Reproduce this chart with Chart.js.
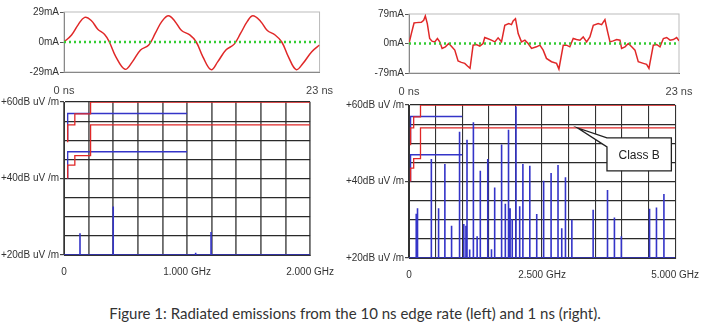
<!DOCTYPE html>
<html>
<head>
<meta charset="utf-8">
<script src="https://cdn.jsdelivr.net/npm/chart.js@4.4.1/dist/chart.umd.min.js"></script>
<style>
  body { margin: 0; background: #fff; width: 710px; height: 328px; position: relative; overflow: hidden; }
  canvas { position: absolute; }
  #caption { position: absolute; left: 0; top: 304px; width: 710px; text-align: center;
             font: 15px Lato, "Open Sans", sans-serif; color: #333; }
</style>
</head>
<body>
<canvas id="tl" width="345" height="100" style="left:0;top:0"></canvas>
<canvas id="tr" width="355" height="100" style="left:355px;top:0"></canvas>
<canvas id="bl" width="345" height="190" style="left:0;top:95px"></canvas>
<canvas id="br" width="370" height="190" style="left:340px;top:95px"></canvas>
<div id="caption">Figure 1: Radiated emissions from the 10 ns edge rate (left) and 1 ns (right).</div>
<script>
// current waveform, 10 ns edge (left) - time in ns, current in mA
const slowTime = [0, 0.68, 1.27, 1.86, 2.45, 3.04, 3.64, 4.08, 4.67, 5.5, 6.15, 6.89, 7.63, 8.22, 8.81, 9.4, 9.99, 10.58, 11.32, 11.9, 12.5, 13.24, 13.83, 14.57, 15.3, 15.9, 16.5, 17.0, 17.7, 18.3, 19.0, 19.6, 20.2, 20.9, 21.5, 22.3, 23.0];
const slowCurrent = [0, 6.8, 16.6, 23.8, 20.8, 12.4, 7.5, 0, -14.3, -26.4, -19.2, -7.8, -2.9, 8.5, 19.9, 25.4, 19.9, 11.1, 6.8, 0, -14.3, -26.7, -19.2, -7.8, -2.3, 8.5, 19.9, 25.4, 19.9, 11.1, 6.8, 0, -14.3, -26.7, -20.8, -9.4, -2.9];

// current waveform, 1 ns edge (right)
const fastTime = [0, 0.2, 0.43, 0.63, 1.05, 1.25, 1.39, 1.56, 1.76, 1.96, 2.19, 2.42, 2.62, 2.82, 3.1, 3.38, 3.61, 3.9, 4.18, 4.46, 4.75, 4.98, 5.2, 5.46, 5.74, 6.03, 6.31, 6.45, 6.68, 7.02, 7.31, 7.59, 7.88, 8.16, 8.5, 8.73, 8.87, 9.07, 9.3, 9.58, 9.87, 10.15, 10.44, 10.86, 11.15, 11.43, 11.71, 12.14, 12.57, 12.77, 13.14, 13.42, 13.7, 13.99, 14.27, 14.56, 14.84, 15.13, 15.41, 15.7, 16.12, 16.41, 16.69, 16.92, 17.12, 17.4, 17.69, 17.97, 18.11, 18.4, 18.68, 18.97, 19.25, 19.53, 19.96, 20.24, 20.44, 20.81, 21.1, 21.38, 21.67, 21.95, 22.24, 22.52, 22.8, 23.0];
const fastCurrent = [0, 26.6, 55, 55.9, 56.8, 62.1, 73.7, 53.2, 13.3, 6.2, 4.4, 13.3, 4.4, -13.3, -8.9, 0, -7.1, -17.7, -47, -50.6, -53.2, -60.3, -66.5, -4.4, -2.7, -7.1, 0, 16, 13.3, 8.9, 4.4, 15.1, 4.4, 48.8, 53.2, 50.6, 60.3, 66.5, 26.6, 4.4, 8.9, 0, -13.3, -8.9, -4.4, -17.7, -39.9, -48.8, -53.2, -68.3, -4.4, -4.4, -8.9, 13.3, 10.6, 8.9, 17.7, 4.4, 17.7, 48.8, 53.2, 50.6, 63.9, 31.1, 4.4, 7.1, 10.6, 8.9, -13.3, -8.9, 0, -8.9, -17.7, -48.8, -53.2, -55.9, -66.5, -4.4, -2.7, -8.9, 13.3, 16, 8.9, 10.6, 16, 7.1];

// limit lines (GHz, dBuV/m), stepped after each break
const fccAFreq = [0.03, 0.088, 0.216, 0.96];
const fccALevel = [49.5, 54, 56.9, 60];
const fccBFreq = [0.03, 0.088, 0.216, 0.96];
const fccBLevel = [40, 43.5, 46, 54];
const cisprAFreq = [0.03, 0.23, 1.0];
const cisprALevel = [50, 57, 57];
const cisprBFreq = [0.03, 0.23, 1.0];
const cisprBLevel = [40, 47, 47];

// spectrum lines
const slowSpikeFreq = [0.13, 0.4, 1.07, 1.195];
const slowSpikeLevel = [25.7, 32.7, 20.6, 26];
const fastSpikeFreq = [0.136, 0.16, 0.42, 0.556, 0.674, 0.8, 0.95, 1.03, 1.07, 1.09, 1.14, 1.21, 1.28, 1.34, 1.48, 1.55, 1.61, 1.74, 1.81, 1.87, 1.9, 1.94, 2.01, 2.08, 2.14, 2.27, 2.4, 2.53, 2.67, 2.8, 2.87, 2.94, 3.06, 3.46, 3.73, 3.86, 3.99, 4.52, 4.65, 4.79];
const fastSpikeLevel = [31.6, 33, 45.9, 33, 44.6, 28.4, 53, 28.9, 28.4, 50.9, 22.2, 55.5, 25.7, 42.8, 45.9, 22.3, 38.4, 49.7, 34.2, 53.5, 33, 30.1, 59.6, 33.5, 44.6, 44.1, 31.5, 40.2, 42.2, 44.3, 27.8, 41.1, 30, 32.6, 37.8, 30.6, 25.7, 32.9, 33.2, 36.7];

// tick labels
const slowCurrentTicks = [-29, 0, 29];
const slowCurrentLabels = ['-29mA', '0mA', '29mA'];
const fastCurrentTicks = [-79, 0, 79];
const fastCurrentLabels = ['-79mA', '0mA', '79mA'];
const timeTicks = [0, 23];
const timeLabels = ['0 ns', '23 ns'];
const levelTicks = [20, 40, 60];
const levelLabels = ['+20dB uV /m', '+40dB uV /m', '+60dB uV /m'];
const slowFreqTicks = [0, 1, 2];
const slowFreqLabels = ['0', '1.000 GHz', '2.000 GHz'];
const fastFreqTicks = [0, 2.5, 5];
const fastFreqLabels = ['0', '2.500 GHz', '5.000 GHz'];

const RED = '#e02828';
const BLUE = '#3434c8';
const GREEN = '#33cc33';
const tickFont = { family: 'Arial, "Liberation Sans", sans-serif', size: 10 };

function labelFor(ticks, labels) {
    return v => {
        const i = ticks.findIndex(t => Math.abs(t - v) < 1e-6);
        return i >= 0 ? labels[i] : '';
    };
}

function pts(xs, ys) {
    return xs.map((x, i) => ({ x: x, y: ys[i] }));
}

function stepPts(xs, ys, end) {
    const p = pts(xs, ys);
    if (end !== undefined) p.push({ x: end, y: ys[ys.length - 1] });
    return p;
}

function spikePts(fs, ls, end) {
    const p = [{ x: 0, y: 20 }];
    fs.forEach((f, i) => {
        p.push({ x: f, y: 20 }, { x: f, y: ls[i] }, { x: f, y: 20 });
    });
    p.push({ x: end, y: 20 });
    return p;
}

// light frame round the waveform plots
const framePlugin = {
    id: 'frame',
    beforeDatasetsDraw(chart) {
        const a = chart.chartArea, c = chart.ctx;
        c.save();
        c.strokeStyle = '#bbb';
        c.lineWidth = 1;
        c.strokeRect(a.left, a.top, a.right - a.left, a.bottom - a.top);
        c.restore();
    }
};

function waveChart(id, time, current, yTicks, yLabels, yWidth, padTop, padRight, xHeight) {
    const ymax = yTicks[yTicks.length - 1];
    new Chart(document.getElementById(id), {
        type: 'line',
        data: {
            datasets: [
                { data: pts([0, 23], [0, 0]), borderColor: GREEN, borderWidth: 2.5, borderDash: [2, 3], pointRadius: 0 },
                { data: pts(time, current), borderColor: RED, borderWidth: 1.5, pointRadius: 0, tension: id === 'tl' ? 0.4 : 0 }
            ]
        },
        options: {
            responsive: false, animation: false, devicePixelRatio: 1,
            layout: { padding: { top: padTop, right: padRight, left: 0, bottom: 0 } },
            plugins: { legend: { display: false }, tooltip: { enabled: false } },
            scales: {
                x: {
                    type: 'linear', min: 0, max: 23,
                    afterBuildTicks: s => { s.ticks = timeTicks.map(v => ({ value: v })); },
                    afterFit: s => { s.height = xHeight; },
                    grid: { display: true, drawOnChartArea: false, drawTicks: false },
                    border: { color: '#555' },
                    ticks: { callback: labelFor(timeTicks, timeLabels), padding: 12, maxRotation: 0, color: '#444',
                             font: { family: tickFont.family, size: 11 } }
                },
                y: {
                    type: 'linear', min: -ymax, max: ymax,
                    afterBuildTicks: s => { s.ticks = yTicks.map(v => ({ value: v })); },
                    afterFit: s => { s.width = yWidth; },
                    grid: { drawOnChartArea: false, drawTicks: true, tickLength: 4, tickColor: '#555' },
                    border: { color: '#555' },
                    ticks: { callback: labelFor(yTicks, yLabels), padding: 1, color: '#333', font: tickFont }
                }
            }
        },
        plugins: [framePlugin]
    });
}

function spectrumChart(id, fmax, fstep, spikeF, spikeL, fTicks, fLabels, yWidth, padTop, padRight, xHeight, extra, vGrid) {
    new Chart(document.getElementById(id), {
        type: 'line',
        data: {
            datasets: [
                { data: spikePts(spikeF, spikeL, fmax), borderColor: BLUE, borderWidth: 1.6, pointRadius: 0 },
                { data: stepPts(fccAFreq, fccALevel, fmax), stepped: 'after', borderColor: RED, borderWidth: 1.3, pointRadius: 0 },
                { data: stepPts(fccBFreq, fccBLevel, fmax), stepped: 'after', borderColor: RED, borderWidth: 1.3, pointRadius: 0 },
                { data: stepPts(cisprAFreq, cisprALevel), stepped: 'after', borderColor: BLUE, borderWidth: 1.3, pointRadius: 0 },
                { data: stepPts(cisprBFreq, cisprBLevel), stepped: 'after', borderColor: BLUE, borderWidth: 1.3, pointRadius: 0 }
            ]
        },
        options: {
            responsive: false, animation: false, devicePixelRatio: 1,
            layout: { padding: { top: padTop, right: padRight, left: 0, bottom: 0 } },
            plugins: { legend: { display: false }, tooltip: { enabled: false } },
            scales: {
                x: {
                    type: 'linear', min: 0, max: fmax,
                    ticks: { stepSize: fstep, callback: labelFor(fTicks, fLabels), padding: 11, maxRotation: 0, autoSkip: false,
                             color: '#333', font: tickFont },
                    afterFit: s => { s.height = xHeight; },
                    grid: { color: vGrid.color, lineWidth: vGrid.width, drawTicks: false },
                    border: { color: '#333' }
                },
                y: {
                    type: 'linear', min: 20, max: 60,
                    ticks: { stepSize: 5, callback: labelFor(levelTicks, levelLabels), padding: 1, autoSkip: false,
                             color: '#333', font: tickFont },
                    afterFit: s => { s.width = yWidth; },
                    grid: { color: '#2a2a2a', lineWidth: 1.2, tickLength: 4,
                            tickColor: c => (levelTicks.includes(c.tick.value) ? '#444' : 'rgba(0,0,0,0)') },
                    border: { color: '#333' }
                }
            }
        },
        plugins: extra
    });
}

// "Class B" callout, placed in data units of the right spectrum plot
const calloutTip = { x: 3.17, y: 54 };
const calloutBox = { x0: 3.72, x1: 4.93, y0: 51.4, y1: 42.8 };
const calloutPlugin = {
    id: 'callout',
    afterDatasetsDraw(chart) {
        const xs = chart.scales.x, ys = chart.scales.y, c = chart.ctx;
        const tx = xs.getPixelForValue(calloutTip.x), ty = ys.getPixelForValue(calloutTip.y);
        const x0 = xs.getPixelForValue(calloutBox.x0), x1 = xs.getPixelForValue(calloutBox.x1);
        const y0 = ys.getPixelForValue(calloutBox.y0), y1 = ys.getPixelForValue(calloutBox.y1);
        c.save();
        c.beginPath();
        c.moveTo(x0, y0);
        c.lineTo(tx, ty);
        c.lineTo(x0, y0 + 9);
        c.lineTo(x0, y1);
        c.lineTo(x1, y1);
        c.lineTo(x1, y0);
        c.closePath();
        c.fillStyle = '#fff';
        c.fill();
        c.strokeStyle = '#222';
        c.lineWidth = 1.3;
        c.stroke();
        c.fillStyle = '#222';
        c.font = '12px Arial, "Liberation Sans", sans-serif';
        c.textAlign = 'center';
        c.textBaseline = 'middle';
        c.fillText('Class B', (x0 + x1) / 2, (y0 + y1) / 2 + 1);
        c.restore();
    }
};

waveChart('tl', slowTime, slowCurrent, slowCurrentTicks, slowCurrentLabels, 64, 12, 22, 28);
waveChart('tr', fastTime, fastCurrent, fastCurrentTicks, fastCurrentLabels, 54, 14, 31, 27);
spectrumChart('bl', 2, 0.2, slowSpikeFreq, slowSpikeLevel, slowFreqTicks, slowFreqLabels, 64, 7, 22, 30, [],
              { color: '#6a6a6a', width: 1.8 });
spectrumChart('br', 5, 0.5, fastSpikeFreq, fastSpikeLevel, fastFreqTicks, fastFreqLabels, 69, 10, 31, 27, [calloutPlugin],
              { color: '#333', width: 1.1 });
</script>
</body>
</html>
